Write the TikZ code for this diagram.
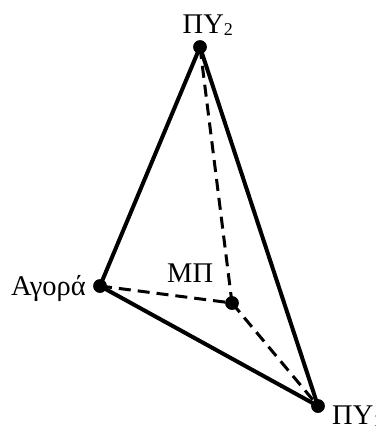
\documentclass[tikz,border=0pt]{standalone}
\usepackage{fontspec}
\setmainfont{Liberation Serif}
\begin{document}
\begin{tikzpicture}[x=1bp,y=-1bp,
  dot/.style={circle,fill=black,inner sep=0pt,minimum size=13.5bp},
  lbl/.style={inner sep=0pt,anchor=base west,font=\fontsize{28.5bp}{30bp}\selectfont},
  solidedge/.style={line width=4bp,line join=round},
  dashedge/.style={line width=3bp,dash pattern=on 12bp off 7bp}]
\useasboundingbox (0,0) rectangle (376,429);
\node[dot] (p2) at (200,47) {};
\node[dot] (ag) at (100,286) {};
\node[dot] (mp) at (232,303) {};
\node[dot] (p1) at (318,406) {};
\draw[dashedge] (p2.center) -- (mp.center);
\draw[dashedge] (ag.center) -- (mp.center);
\draw[dashedge] (mp.center) -- (p1.center);
\draw[solidedge] (p2.center) -- (ag.center) -- (p1.center) -- cycle;
\node[dot] at (p2) {};
\node[dot] at (ag) {};
\node[dot] at (mp) {};
\node[dot] at (p1) {};
\node[lbl] (t2) at (182.5,33) {ΠΥ\raisebox{-2bp}{\fontsize{18bp}{18bp}\selectfont 2}};
\node[lbl] (tag) at (11,295) {Αγορά};
\node[lbl] (tmp) at (167,282) {ΜΠ};
\node[lbl] (t1) at (332,424) {ΠΥ\raisebox{-2bp}{\fontsize{18bp}{18bp}\selectfont 1}};
\end{tikzpicture}
\end{document}
